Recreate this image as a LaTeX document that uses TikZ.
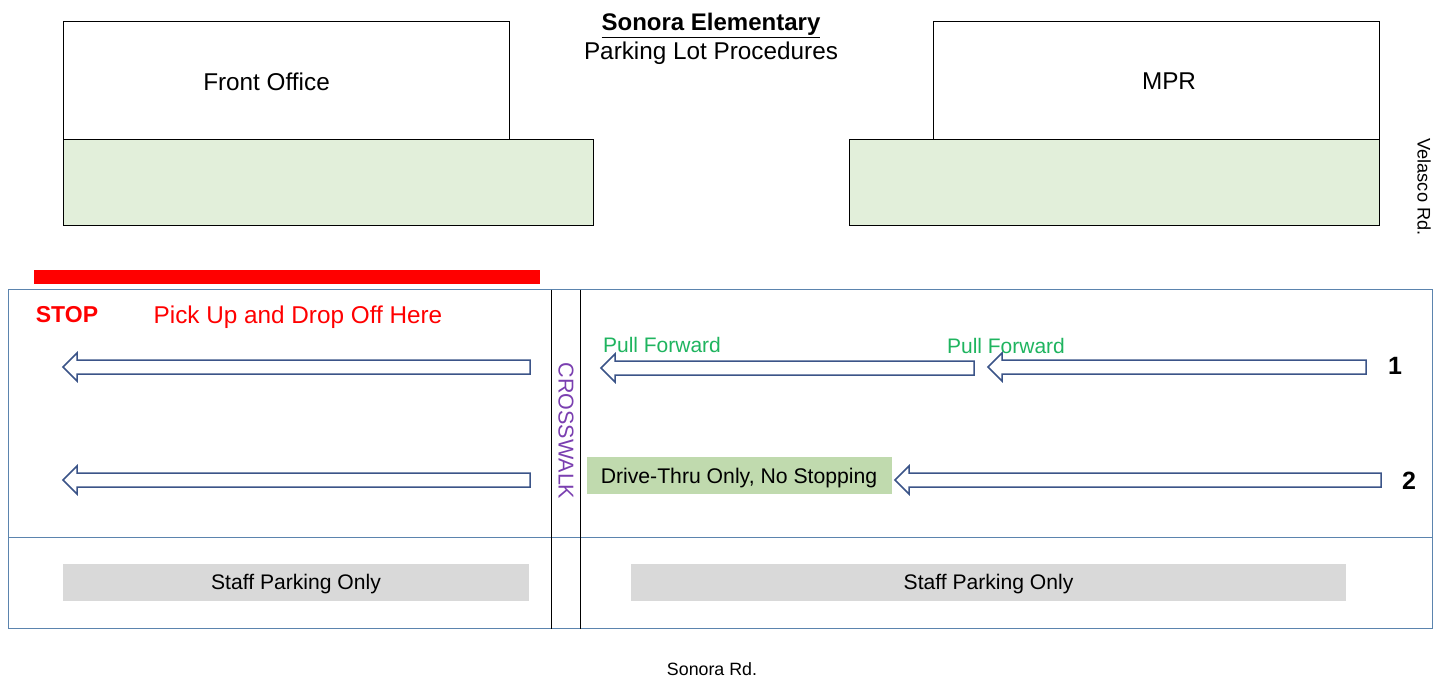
\documentclass[tikz,border=0pt]{standalone}
\usepackage{fontspec}
\setmainfont{Liberation Sans}
\definecolor{lotblue}{HTML}{5B84AE}
\definecolor{arrowblue}{HTML}{3B5488}
\definecolor{lightgreen}{HTML}{E2EFDA}
\definecolor{drivegreen}{HTML}{C0DAAE}
\definecolor{pullgreen}{HTML}{1FB45F}
\definecolor{walkpurple}{HTML}{7A3FB0}
\definecolor{staffgrey}{HTML}{D9D9D9}
\newcommand{\blockarrow}[3]{%
  \draw[flowarrow] (#2,#3-7) -- (#1+14,#3-7) -- (#1+14,#3-14) -- (#1,#3) -- (#1+14,#3+14) -- (#1+14,#3+7) -- (#2,#3+7) -- cycle;}
\tikzset{
  building/.style={draw=black,line width=1pt,fill=white},
  walkway/.style={draw=black,line width=1pt,fill=lightgreen},
  lotline/.style={draw=lotblue,line width=1.3pt},
  flowarrow/.style={draw=arrowblue,line width=1.5pt,fill=white,line join=miter},
  label/.style={font=\fontsize{24.3}{28}\selectfont,inner sep=0pt,text=black},
  pull/.style={font=\fontsize{21}{24}\selectfont,inner sep=0pt,text=pullgreen},
  staff/.style={font=\fontsize{21.1}{24}\selectfont,inner sep=0pt,text=black},
}
\begin{document}
\begin{tikzpicture}[x=1pt,y=-1pt]
\useasboundingbox (0,0) rectangle (1442,679);
\draw[building] (63.7,21.7) rectangle (509.7,139.7);
\draw[building] (933.7,21.7) rectangle (1379.7,139.7);
\draw[walkway] (63.7,139.7) rectangle (593.7,225.7);
\draw[walkway] (849.7,139.7) rectangle (1379.7,225.7);
\node[label] (office) at (266.5,81.5) {Front Office};
\node[label] (mpr) at (1169,81.5) {MPR};
\node[font=\fontsize{24}{27}\selectfont\bfseries,inner sep=0pt] (title) at (711,25.5) {\underline{Sonora Elementary}};
\node[label] (subtitle) at (711,53.5) {Parking Lot Procedures};
\node[font=\fontsize{18.2}{20}\selectfont,rotate=-90,inner sep=0pt] (velasco) at (1424,187) {Velasco Rd.};
\fill[red] (34,270) rectangle (540,284);
\draw[lotline] (8.7,289.7) rectangle (1432.7,628.7);
\draw[lotline] (8.7,537.7) -- (1432.7,537.7);
\draw[black,line width=1pt] (551.7,289.7) -- (551.7,628.7);
\draw[black,line width=1pt] (580.7,289.7) -- (580.7,628.7);
\node[font=\fontsize{23}{27}\selectfont\bfseries,text=red,inner sep=0pt] (stop) at (67,315) {STOP};
\node[font=\fontsize{24.3}{27}\selectfont,text=red,inner sep=0pt] (pickup) at (298,317.5) {Pick Up and Drop Off Here};
\node[font=\fontsize{21.5}{25}\selectfont,text=walkpurple,rotate=-90,inner sep=0pt] (crosswalk) at (566,431) {CROSSWALK};
\blockarrow{63}{530}{367}
\blockarrow{63}{530}{480}
\blockarrow{601}{974}{368}
\blockarrow{988}{1366}{367}
\blockarrow{895}{1381}{480}
\node[pull] (pullA) at (662,345) {Pull Forward};
\node[pull] (pullB) at (1006,346) {Pull Forward};
\node[font=\fontsize{25}{28}\selectfont\bfseries,inner sep=0pt] (one) at (1395,366) {1};
\node[font=\fontsize{25}{28}\selectfont\bfseries,inner sep=0pt] (two) at (1409,481) {2};
\fill[drivegreen] (587,457) rectangle (892,494);
\node[font=\fontsize{21.2}{25}\selectfont,inner sep=0pt] (drive) at (739,478) {Drive-Thru Only, No Stopping};
\fill[staffgrey] (63,564) rectangle (529,601);
\node[staff] (staffA) at (296,584) {Staff Parking Only};
\fill[staffgrey] (631,564) rectangle (1346,601);
\node[staff] (staffB) at (988.5,584) {Staff Parking Only};
\node[font=\fontsize{17.8}{20}\selectfont,inner sep=0pt] (sonora) at (712,669) {Sonora Rd.};
\end{tikzpicture}
\end{document}
